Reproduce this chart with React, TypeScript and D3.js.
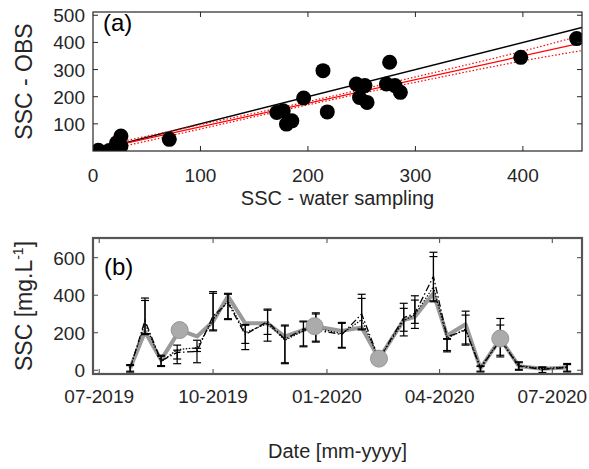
import * as d3 from "d3";

// panel (a): OBS vs water sampling
const scatterX = [5, 15, 22, 26, 26, 71, 171, 177, 180, 185, 196, 214, 218, 245, 248, 253, 255, 273, 276, 281, 286, 398, 450];
const scatterY = [3, 2, 30, 55, 18, 43, 142, 148, 99, 111, 195, 296, 144, 247, 197, 241, 179, 247, 327, 241, 216, 345, 414];
const oneToOne = [0, 455];
const fitX = [0, 455];
const fitY = [2, 398];
const bandX = [0, 100, 200, 300, 400, 455];
const bandHi = [12, 97, 182, 273, 368, 426];
const bandLo = [-8, 81, 170, 253, 332, 370];
const xTicksA = [0, 100, 200, 300, 400];
const yTicksA = [100, 200, 300, 400, 500];

// panel (b): time series
const sampleDates = ["2019-07-26", "2019-08-07", "2019-08-20", "2019-09-02", "2019-09-18", "2019-10-01", "2019-10-13", "2019-10-27", "2019-11-14", "2019-11-28", "2019-12-13", "2019-12-23", "2020-01-13", "2020-01-29", "2020-02-12", "2020-03-03", "2020-03-12", "2020-03-27", "2020-04-07", "2020-04-22", "2020-05-04", "2020-05-20", "2020-06-04", "2020-06-23", "2020-07-13"];
const dashVals = [10, 265, 50, 95, 100, 290, 360, 190, 260, 165, 220, 215, 190, 300, 60, 280, 303, 500, 178, 214, 10, 160, 22, 5, 15];
const dashLo = [-10, 190, 20, 35, 40, 210, 270, 110, 155, 35, 125, 150, 118, 215, 40, 183, 223, 365, 98, 134, -9, 71, 0, -18, -9];
const dashHi = [30, 385, 80, 134, 160, 419, 410, 244, 326, 241, 262, 306, 255, 405, 80, 357, 397, 629, 169, 315, 23, 276, 45, 18, 36];
const dotVals = [15, 250, 45, 110, 120, 270, 370, 200, 250, 160, 210, 225, 195, 270, 60, 265, 295, 445, 170, 220, 15, 165, 25, 8, 18];
const dotLo = [-5, 195, 25, 60, 100, 215, 275, 143, 191, 40, 130, 155, 122, 220, 45, 208, 250, 370, 105, 140, -5, 80, 5, -12, -5];
const dotHi = [25, 372, 75, 107, 117, 410, 405, 240, 320, 236, 258, 300, 250, 383, 75, 330, 374, 606, 165, 294, 20, 241, 40, 15, 30];
const grayDates = ["2019-07-26", "2019-08-07", "2019-08-20", "2019-09-04", "2019-09-18", "2019-10-01", "2019-10-13", "2019-10-27", "2019-11-14", "2019-11-28", "2019-12-22", "2020-01-13", "2020-01-29", "2020-02-12", "2020-03-03", "2020-03-12", "2020-03-27", "2020-04-07", "2020-04-22", "2020-05-04", "2020-05-20", "2020-06-04", "2020-06-23", "2020-07-13"];
const grayVals = [10, 205, 55, 214, 180, 260, 395, 250, 250, 180, 235, 210, 228, 62, 267, 285, 410, 185, 245, 10, 169, 22, 8, 15];
const circleDates = ["2019-09-04", "2019-12-22", "2020-02-12", "2020-05-20"];
const circleVals = [214, 235, 62, 169];
const dateTicks = ["2019-07-01", "2019-10-01", "2020-01-01", "2020-04-01", "2020-07-01"];
const yTicksB = [0, 200, 400, 600];

const FONT = "'Liberation Sans', Arial, Helvetica, sans-serif";
const INK = "#262626";
const parse = d3.utcParse("%Y-%m-%d");

export default function App() {
  const W = 589;
  const H = 469;
  const a = { left: 93, right: 582, top: 12, bottom: 151 };
  const b = { left: 93, right: 582, top: 238, bottom: 374 };

  const xA = d3.scaleLinear().domain([0, 455]).range([a.left, a.right]);
  const yA = d3.scaleLinear().domain([0, 512]).range([a.bottom, a.top]);

  const xB = d3
    .scaleUtc()
    .domain([parse("2019-06-26")!, parse("2020-07-25")!])
    .range([b.left, b.right]);
  const yB = d3.scaleLinear().domain([-20, 705]).range([b.bottom, b.top]);

  const lineA = d3
    .line<[number, number]>()
    .x((d) => xA(d[0]))
    .y((d) => yA(d[1]));
  const bandLine = d3
    .line<[number, number]>()
    .x((d) => xA(d[0]))
    .y((d) => yA(d[1]))
    .curve(d3.curveMonotoneX);

  const lineB = d3
    .line<[Date, number]>()
    .x((d) => xB(d[0]))
    .y((d) => yB(d[1]));

  const sd = sampleDates.map((s) => parse(s)!);
  const dashPts: [Date, number][] = sd.map((d, i) => [d, dashVals[i]]);
  const dotPts: [Date, number][] = sd.map((d, i) => [d, dotVals[i]]);
  const grayPts: [Date, number][] = grayDates.map((s, i) => [parse(s)!, grayVals[i]]);

  const cap = 4;
  const errBars = (lo: number[], hi: number[], key: string) =>
    sd.map((d, i) => {
      const x = xB(d);
      const y0 = yB(lo[i]);
      const y1 = yB(hi[i]);
      return (
        <g key={key + i} stroke="#000" strokeWidth={1.2}>
          <line x1={x} x2={x} y1={y0} y2={y1} />
          <line x1={x - cap} x2={x + cap} y1={y0} y2={y0} />
          <line x1={x - cap} x2={x + cap} y1={y1} y2={y1} />
        </g>
      );
    });

  const tl = 5;

  return (
    <svg
      width={W}
      height={H}
      style={{ position: "absolute", left: 0, top: 0, background: "#fff" }}
      fontFamily={FONT}
    >
      <defs>
        <clipPath id="clipA">
          <rect x={a.left} y={a.top} width={a.right - a.left} height={a.bottom - a.top} />
        </clipPath>
        <clipPath id="clipB">
          <rect x={b.left} y={b.top} width={b.right - b.left} height={b.bottom - b.top} />
        </clipPath>
      </defs>

      {/* ---------- panel (a) ---------- */}
      <rect x={a.left} y={a.top} width={a.right - a.left} height={a.bottom - a.top} fill="#fff" />
      <g clipPath="url(#clipA)">
        <path
          d={lineA(oneToOne.map((v) => [v, v] as [number, number]))!}
          stroke="#000"
          strokeWidth={1.4}
          fill="none"
        />
        <path
          d={bandLine(bandX.map((v, i) => [v, bandHi[i]] as [number, number]))!}
          stroke="#ff0000"
          strokeWidth={1.2}
          strokeDasharray="1.5,2"
          fill="none"
        />
        <path
          d={bandLine(bandX.map((v, i) => [v, bandLo[i]] as [number, number]))!}
          stroke="#ff0000"
          strokeWidth={1.2}
          strokeDasharray="1.5,2"
          fill="none"
        />
        <path
          d={lineA(fitX.map((v, i) => [v, fitY[i]] as [number, number]))!}
          stroke="#ff0000"
          strokeWidth={1.2}
          fill="none"
        />
        {scatterX.map((v, i) => (
          <circle key={i} cx={xA(v)} cy={yA(scatterY[i])} r={7.5} fill="#000" />
        ))}
      </g>
      <g stroke={INK} strokeWidth={1}>
        {xTicksA.slice(1).map((t) => (
          <g key={t}>
            <line x1={xA(t)} x2={xA(t)} y1={a.bottom} y2={a.bottom - tl} />
            <line x1={xA(t)} x2={xA(t)} y1={a.top} y2={a.top + tl} />
          </g>
        ))}
        {yTicksA.map((t) => (
          <g key={t}>
            <line x1={a.left} x2={a.left + tl} y1={yA(t)} y2={yA(t)} />
            <line x1={a.right} x2={a.right - tl} y1={yA(t)} y2={yA(t)} />
          </g>
        ))}
      </g>
      <rect
        x={a.left}
        y={a.top}
        width={a.right - a.left}
        height={a.bottom - a.top}
        fill="none"
        stroke={INK}
        strokeWidth={1.2}
      />
      <g fill={INK} fontSize={19}>
        {xTicksA.map((t) => (
          <text key={t} x={xA(t)} y={182} textAnchor="middle">
            {t}
          </text>
        ))}
        {yTicksA.map((t) => (
          <text key={t} x={85} y={yA(t) + 7} textAnchor="end">
            {t}
          </text>
        ))}
      </g>
      <text x={(a.left + a.right) / 2} y={205} textAnchor="middle" fontSize={20} fill={INK}>
        SSC - water sampling
      </text>
      <text
        transform={`translate(32,${(a.top + a.bottom) / 2}) rotate(-90)`}
        textAnchor="middle"
        fontSize={23}
        fill={INK}
      >
        SSC - OBS
      </text>
      <text x={103} y={31} fontSize={24} fill="#000">
        (a)
      </text>

      {/* ---------- panel (b) ---------- */}
      <g clipPath="url(#clipB)">
        <path d={lineB(grayPts)!} stroke="#9a9a9a" strokeWidth={4} fill="none" strokeLinejoin="round" />
        <path d={lineB(dotPts)!} stroke="#000" strokeWidth={1.2} strokeDasharray="1.5,1.5" fill="none" />
        <path d={lineB(dashPts)!} stroke="#000" strokeWidth={1.3} strokeDasharray="7,2.5,1.5,2.5" fill="none" />
        {errBars(dashLo, dashHi, "d")}
        {errBars(dotLo, dotHi, "o")}
        {circleDates.map((s, i) => (
          <circle
            key={s}
            cx={xB(parse(s)!)}
            cy={yB(circleVals[i])}
            r={8.5}
            fill="#ababab"
            stroke="#969696"
            strokeWidth={1}
          />
        ))}
      </g>
      <g stroke="#444" strokeWidth={1}>
        {dateTicks.map((s) => {
          const x = xB(parse(s)!);
          return (
            <g key={s}>
              <line x1={x} x2={x} y1={b.bottom} y2={b.bottom - tl} />
              <line x1={x} x2={x} y1={b.top} y2={b.top + tl} />
            </g>
          );
        })}
        {yTicksB.map((t) => (
          <g key={t}>
            <line x1={b.left} x2={b.left + tl} y1={yB(t)} y2={yB(t)} />
            <line x1={b.right} x2={b.right - tl} y1={yB(t)} y2={yB(t)} />
          </g>
        ))}
      </g>
      <rect
        x={b.left}
        y={b.top}
        width={b.right - b.left}
        height={b.bottom - b.top}
        fill="none"
        stroke="#555"
        strokeWidth={2.2}
      />
      <g fill={INK} fontSize={19}>
        {dateTicks.map((s) => (
          <text key={s} x={xB(parse(s)!)} y={403} textAnchor="middle">
            {d3.utcFormat("%m-%Y")(parse(s)!)}
          </text>
        ))}
        {yTicksB.map((t) => (
          <text key={t} x={85} y={yB(t) + 7} textAnchor="end">
            {t}
          </text>
        ))}
      </g>
      <text x={(b.left + b.right) / 2} y={458} textAnchor="middle" fontSize={20} fill={INK}>
        Date [mm-yyyy]
      </text>
      <text
        transform={`translate(32,${(b.top + b.bottom) / 2}) rotate(-90)`}
        textAnchor="middle"
        fontSize={23}
        fill={INK}
      >
        SSC [mg.L
        <tspan fontSize={14} dy={-9}>
          -1
        </tspan>
        <tspan dy={9}>]</tspan>
      </text>
      <text x={104} y={275} fontSize={24} fill="#000">
        (b)
      </text>
    </svg>
  );
}
